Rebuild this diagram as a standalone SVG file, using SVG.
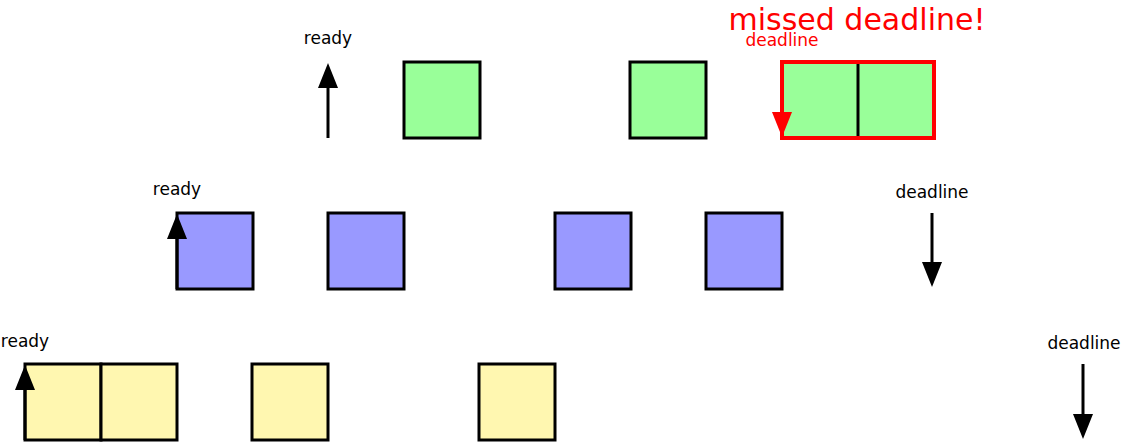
<svg xmlns="http://www.w3.org/2000/svg" width="1124" height="442" viewBox="0 0 1124 442">
<style>
.box{stroke:#000;stroke-width:3}
.g{fill:#99ff99}.b{fill:#9999ff}.y{fill:#fff7b0}
.red{fill:none;stroke:#ff0000;stroke-width:4}
.sep{stroke:#000;stroke-width:3}
.lbl{font-family:"DejaVu Sans",sans-serif;font-size:17px;text-anchor:middle;fill:#000}
.rl{fill:#ff0000}
.arr{stroke:#000;stroke-width:3;fill:none;marker-end:url(#ah)}
.arrR{stroke:#ff0000;stroke-width:3;fill:none;marker-end:url(#ahR)}
</style>
<defs>
<marker id="ah" markerUnits="userSpaceOnUse" viewBox="-5 -10 25 20" refX="0" refY="0" markerWidth="25" markerHeight="20" orient="auto"><path d="M-5,-10 L20,0 L-5,10 z" fill="#000"/></marker>
<marker id="ahR" markerUnits="userSpaceOnUse" viewBox="-5 -10 25 20" refX="0" refY="0" markerWidth="25" markerHeight="20" orient="auto"><path d="M-5,-10 L20,0 L-5,10 z" fill="#ff0000"/></marker>
</defs>
<g id="task1">
<rect id="g1" class="box g" x="404" y="62" width="76" height="76"/>
<rect id="g2" class="box g" x="630" y="62" width="76" height="76"/>
<g id="g3">
<rect class="g" x="782" y="62" width="152" height="76"/>
<line class="sep" x1="858" y1="62" x2="858" y2="138"/>
<rect class="red" x="782" y="62" width="152" height="76"/>
</g>
</g>
<g id="task2">
<rect class="box b" x="177" y="213" width="76" height="76"/>
<rect class="box b" x="328" y="213" width="76" height="76"/>
<rect class="box b" x="555" y="213" width="76" height="76"/>
<rect class="box b" x="706" y="213" width="76" height="76"/>
</g>
<g id="task3">
<rect class="box y" x="25" y="364" width="76" height="76"/>
<rect class="box y" x="101" y="364" width="76" height="76"/>
<rect class="box y" x="252" y="364" width="76" height="76"/>
<rect class="box y" x="479" y="364" width="76" height="76"/>
</g>
<g id="connectors">
<line class="arr" x1="328" y1="138" x2="328" y2="83"/>
<line class="arr" x1="177" y1="289" x2="177" y2="234"/>
<line class="arr" x1="25" y1="440" x2="25" y2="385"/>
<line class="arr" x1="932" y1="213" x2="932" y2="267"/>
<line class="arr" x1="1083" y1="364" x2="1083" y2="419"/>
<line class="arrR" x1="782" y1="62" x2="782" y2="117"/>
</g>
<g id="labels">
<text class="lbl" x="328" y="44">ready</text>
<text class="lbl" x="177" y="195">ready</text>
<text class="lbl" x="25" y="347">ready</text>
<text class="lbl" x="932" y="198">deadline</text>
<text class="lbl" x="1084" y="349">deadline</text>
<text class="lbl rl" x="782" y="46">deadline</text>
<text class="lbl rl" x="857" y="30" style="font-size:30px">missed deadline!</text>
</g>
</svg>
